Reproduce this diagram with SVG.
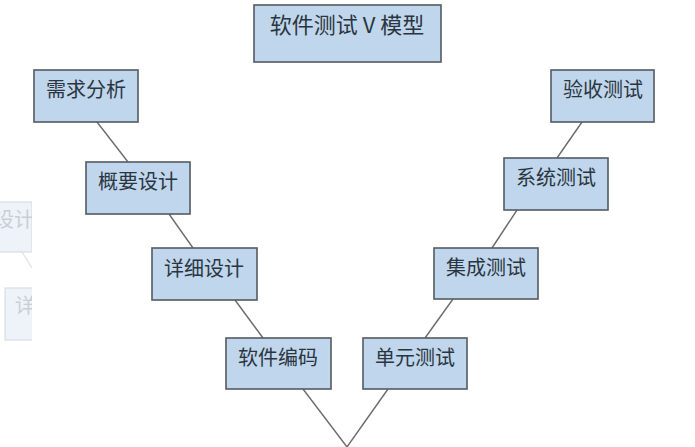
<svg xmlns="http://www.w3.org/2000/svg" width="695" height="447" viewBox="0 0 695 447">
<defs>
<clipPath id="leftStrip"><rect x="0" y="190" width="32" height="160"/></clipPath>
</defs>
<style>
.box{fill:#bfd6ec;stroke:#545b63;stroke-width:1.6}
.lbl{font-family:"Noto Sans CJK SC","Noto Sans",sans-serif;font-size:20px;fill:#2b3540;text-anchor:middle}
.conn line{stroke:#6b6b6b;stroke-width:1.4}
.gbox{fill:#eef3f9;stroke:#d9dee4;stroke-width:1.2}
.gtxt{font-family:"Noto Sans CJK SC","Noto Sans",sans-serif;font-size:20px;fill:#c9ced5}
</style>
<rect width="695" height="447" fill="#ffffff"/>
<g id="ghost" clip-path="url(#leftStrip)">
<rect class="gbox" x="-10" y="202" width="42" height="50"/>
<text class="gtxt" x="-6" y="227">设计</text>
<line x1="22" y1="252" x2="32" y2="268" stroke="#dde1e6" stroke-width="1.2"/>
<rect class="gbox" x="5" y="288" width="40" height="52"/>
<text class="gtxt" x="15" y="313">详</text>
</g>
<g id="connectors" class="conn">
<line x1="97" y1="122" x2="128" y2="162"/>
<line x1="169" y1="214" x2="193" y2="248"/>
<line x1="235" y1="300" x2="263" y2="338"/>
<line x1="303" y1="389" x2="347" y2="447"/>
<line x1="388" y1="389" x2="347" y2="447"/>
<line x1="425" y1="338" x2="453" y2="299"/>
<line x1="492" y1="248" x2="517" y2="210"/>
<line x1="557" y1="158" x2="582" y2="122"/>
</g>
<g id="title"><rect class="box" x="254" y="5" width="187" height="57"/><text class="lbl" x="347" y="33" style="font-size:22px">软件测试 V 模型</text></g>
<g id="xqfx"><rect class="box" x="34" y="70" width="104" height="52"/><text class="lbl" x="86" y="97">需求分析</text></g>
<g id="gysj"><rect class="box" x="86" y="162" width="104" height="52"/><text class="lbl" x="138" y="189">概要设计</text></g>
<g id="xxsj"><rect class="box" x="152" y="248" width="105" height="52"/><text class="lbl" x="204" y="276">详细设计</text></g>
<g id="rjbm"><rect class="box" x="226" y="338" width="105" height="51"/><text class="lbl" x="278" y="365">软件编码</text></g>
<g id="dycs"><rect class="box" x="363" y="338" width="104" height="51"/><text class="lbl" x="415" y="365">单元测试</text></g>
<g id="jccs"><rect class="box" x="434" y="248" width="104" height="51"/><text class="lbl" x="486" y="275">集成测试</text></g>
<g id="xtcs"><rect class="box" x="504" y="158" width="104" height="52"/><text class="lbl" x="556" y="185">系统测试</text></g>
<g id="yscs"><rect class="box" x="551" y="70" width="103" height="52"/><text class="lbl" x="603" y="97">验收测试</text></g>
</svg>
